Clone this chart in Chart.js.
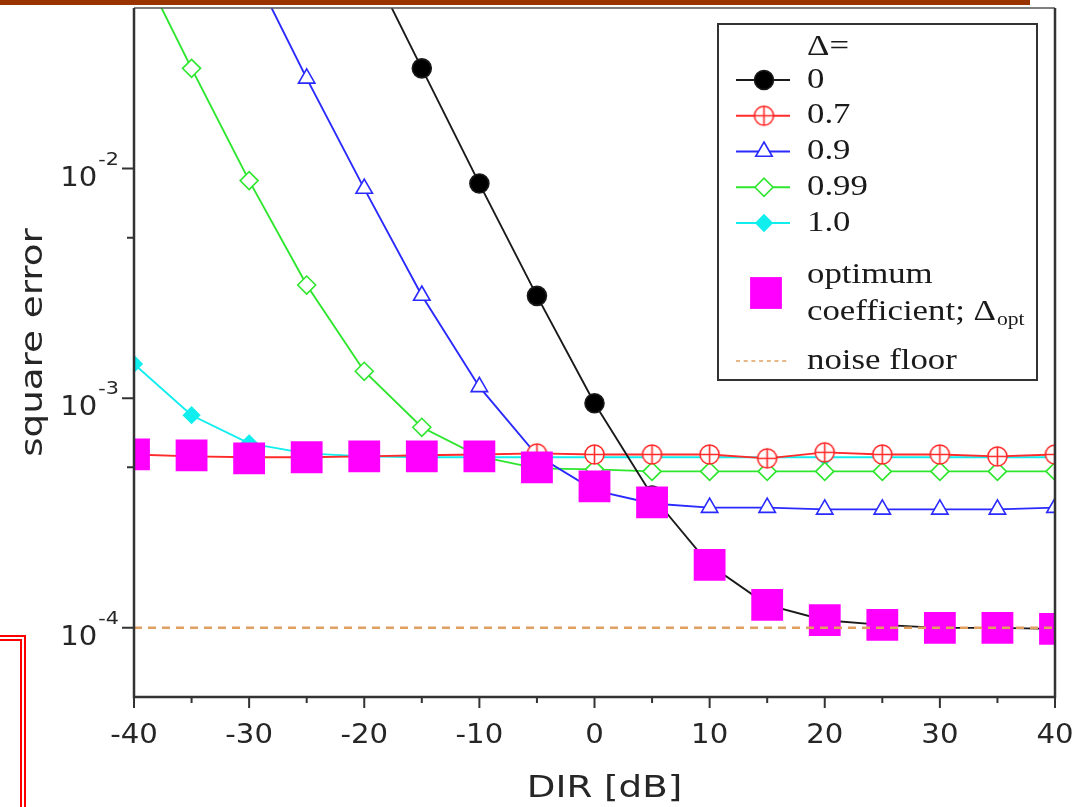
<!DOCTYPE html>
<html>
<head>
<meta charset="utf-8">
<title>square error vs DIR</title>
<script src="https://cdn.jsdelivr.net/npm/chart.js@4.4.0/dist/chart.umd.min.js"></script>
<style>
  html, body { margin: 0; padding: 0; background: #fff; }
  #wrap { position: relative; width: 1073px; height: 807px; overflow: hidden; }
  #chart { position: absolute; left: 0; top: 0; }
  #topBar { position: absolute; left: 0; top: 0; width: 1030px; height: 5px; background: #993300; }
  #sideFrame { position: absolute; left: -20px; top: 635px; width: 46px; height: 300px; border: 6px double #ff0000; box-sizing: border-box; }
</style>
</head>
<body>
<div id="wrap">
  <canvas id="chart" width="1073" height="807"></canvas>
  <div id="topBar"></div>
  <div id="sideFrame"></div>
</div>
<script>
// DIR in dB (x axis)
const dirDb = [-40, -35, -30, -25, -20, -15, -10, -5, 0, 5, 10, 15, 20, 25, 30, 35, 40];

// square error for each fixed coefficient Delta
const errDelta0   = [null, null, null, null, 0.087, 0.0273, 0.0086, 0.00279, 0.00095, 3.77e-4, 1.88e-4, 1.26e-4, 1.08e-4, 1.03e-4, 1.00e-4, 1.00e-4, 0.99e-4];
const errDelta07  = [5.69e-4, 5.58e-4, 5.53e-4, 5.53e-4, 5.58e-4, 5.64e-4, 5.69e-4, 5.75e-4, 5.69e-4, 5.69e-4, 5.69e-4, 5.47e-4, 5.81e-4, 5.69e-4, 5.69e-4, 5.58e-4, 5.69e-4];
const errDelta09  = [null, null, 0.0785, 0.0247, 0.00818, 0.0028, 0.00112, 5.64e-4, 3.97e-4, 3.48e-4, 3.34e-4, 3.34e-4, 3.28e-4, 3.28e-4, 3.28e-4, 3.28e-4, 3.34e-4];
const errDelta099 = [0.087, 0.0273, 0.00886, 0.00311, 0.00131, 7.47e-4, 5.58e-4, 4.95e-4, 4.90e-4, 4.80e-4, 4.80e-4, 4.80e-4, 4.80e-4, 4.80e-4, 4.80e-4, 4.80e-4, 4.80e-4];
const errDelta1   = [0.00141, 8.43e-4, 6.36e-4, 5.75e-4, 5.58e-4, 5.53e-4, 5.53e-4, 5.53e-4, 5.53e-4, 5.53e-4, 5.53e-4, 5.53e-4, 5.53e-4, 5.53e-4, 5.53e-4, 5.53e-4, 5.53e-4];
// optimum coefficient
const errOptimum  = [5.69e-4, 5.64e-4, 5.47e-4, 5.53e-4, 5.58e-4, 5.58e-4, 5.58e-4, 5.0e-4, 4.13e-4, 3.52e-4, 1.88e-4, 1.26e-4, 1.08e-4, 1.03e-4, 1.00e-4, 1.00e-4, 0.99e-4];
const noiseFloor = 1e-4;

// axis ticks
const xMajorTicks = [-40, -30, -20, -10, 0, 10, 20, 30, 40];
const xMinorTicks = [-35, -25, -15, -5, 5, 15, 25, 35];
const yMajorTicks = [1e-4, 1e-3, 1e-2];
const yTickExponents = ['-4', '-3', '-2'];
const yMinorTicks = [5e-4, 5e-3];

const seriesLabels = ['0', '0.7', '0.9', '0.99', '1.0'];

function toPoints(arr) {
    return dirDb.map((x, i) => ({ x: x, y: arr[i] }));
}

function circlePlus(color, r) {
    const c = document.createElement('canvas');
    const s = Math.ceil(r * 2 + 4);
    c.width = s;
    c.height = s;
    const g = c.getContext('2d');
    g.fillStyle = '#fff';
    g.strokeStyle = color;
    g.lineWidth = 1.6;
    g.beginPath();
    g.arc(s / 2, s / 2, r, 0, Math.PI * 2);
    g.fill();
    g.stroke();
    g.beginPath();
    g.moveTo(s / 2 - r, s / 2);
    g.lineTo(s / 2 + r, s / 2);
    g.moveTo(s / 2, s / 2 - r);
    g.lineTo(s / 2, s / 2 + r);
    g.stroke();
    return c;
}

function lineSeries(label, data, color, style, radius, fill, order) {
    return {
        label: label,
        data: toPoints(data),
        borderColor: color,
        borderWidth: 1.9,
        pointStyle: style,
        pointRadius: radius,
        pointBorderWidth: 1.6,
        pointBorderColor: color,
        pointBackgroundColor: fill,
        tension: 0,
        spanGaps: false,
        order: order
    };
}

const datasets = [
    lineSeries(seriesLabels[0], errDelta0, '#1a1a1a', 'circle', 9.5, '#000', 2),
    lineSeries(seriesLabels[1], errDelta07, '#ff2a2a', circlePlus('#ff2a2a', 9.5), 10, '#fff', 3),
    lineSeries(seriesLabels[2], errDelta09, '#2a2aff', 'triangle', 9.5, '#fff', 4),
    lineSeries(seriesLabels[3], errDelta099, '#2ee62e', 'rectRot', 9, '#fff', 5),
    lineSeries(seriesLabels[4], errDelta1, '#10eeee', 'rectRot', 8, '#10eeee', 6),
    {
        label: 'optimum',
        data: toPoints(errOptimum),
        showLine: false,
        borderWidth: 0,
        pointStyle: 'rect',
        pointRadius: 22.5,
        pointBorderWidth: 0,
        pointBackgroundColor: '#ff00ff',
        order: 1
    },
    {
        label: 'noise floor',
        data: [{ x: -40, y: noiseFloor }, { x: 40, y: noiseFloor }],
        borderColor: '#e0a060',
        borderWidth: 2.5,
        borderDash: [8, 6],
        pointRadius: 0,
        order: 0
    }
];

function stretchText(ctx, text, x, y, align, sx) {
    ctx.save();
    ctx.translate(x, y);
    ctx.scale(sx, 1);
    ctx.textAlign = align;
    ctx.fillText(text, 0, 0);
    ctx.restore();
}

const decorPlugin = {
    id: 'decor',
    afterDraw(chart) {
        const ctx = chart.ctx;
        const area = chart.chartArea;
        const xs = chart.scales.x;
        const ys = chart.scales.y;

        ctx.save();
        // frame
        ctx.strokeStyle = '#555';
        ctx.lineWidth = 1.5;
        ctx.beginPath();
        ctx.moveTo(area.left, area.top);
        ctx.lineTo(area.right, area.top);
        ctx.stroke();
        ctx.strokeStyle = '#333';
        ctx.lineWidth = 2.5;
        ctx.beginPath();
        ctx.moveTo(area.left, area.top);
        ctx.lineTo(area.left, area.bottom);
        ctx.lineTo(area.right, area.bottom);
        ctx.lineTo(area.right, area.top);
        ctx.stroke();

        // ticks
        ctx.lineWidth = 2;
        ctx.beginPath();
        xMajorTicks.forEach(v => {
            const px = xs.getPixelForValue(v);
            ctx.moveTo(px, area.bottom);
            ctx.lineTo(px, area.bottom + 11);
        });
        xMinorTicks.forEach(v => {
            const px = xs.getPixelForValue(v);
            ctx.moveTo(px, area.bottom);
            ctx.lineTo(px, area.bottom + 6);
        });
        yMajorTicks.forEach(v => {
            const py = ys.getPixelForValue(v);
            ctx.moveTo(area.left, py);
            ctx.lineTo(area.left - 12, py);
        });
        yMinorTicks.forEach(v => {
            const py = ys.getPixelForValue(v);
            ctx.moveTo(area.left, py);
            ctx.lineTo(area.left - 7, py);
        });
        ctx.stroke();

        // tick labels
        ctx.fillStyle = '#262626';
        ctx.textBaseline = 'alphabetic';
        ctx.font = '27px "DejaVu Sans"';
        xMajorTicks.forEach(v => {
            stretchText(ctx, String(v), xs.getPixelForValue(v), area.bottom + 46, 'center', 1.08);
        });
        yMajorTicks.forEach((v, i) => {
            const py = ys.getPixelForValue(v);
            const expRight = area.left - 15;
            ctx.font = '18px "DejaVu Sans"';
            const expW = ctx.measureText(yTickExponents[i]).width * 1.15;
            stretchText(ctx, yTickExponents[i], expRight, py - 4, 'right', 1.15);
            ctx.font = '26px "DejaVu Sans"';
            stretchText(ctx, '10', expRight - expW - 1, py + 17, 'right', 1.12);
        });

        // axis titles
        ctx.font = '31px "DejaVu Sans"';
        stretchText(ctx, 'DIR [dB]', (area.left + area.right) / 2 + 10, area.bottom + 100, 'center', 1.2);
        ctx.save();
        ctx.translate(42, (area.top + area.bottom) / 2 - 10);
        ctx.rotate(-Math.PI / 2);
        stretchText(ctx, 'square error', 0, 0, 'center', 1.2);
        ctx.restore();

        // legend
        const bx = area.right - 337;
        const by = area.top + 16;
        const bw = 319;
        const bh = 356;
        ctx.fillStyle = '#fff';
        ctx.fillRect(bx, by, bw, bh);
        ctx.strokeStyle = '#333';
        ctx.lineWidth = 2;
        ctx.strokeRect(bx, by, bw, bh);

        const textX = bx + 89;
        const lineL = bx + 18;
        const lineR = bx + 72;
        const markX = bx + 46;
        ctx.textBaseline = 'middle';
        ctx.fillStyle = '#1a1a1a';
        ctx.font = '29px "Liberation Serif"';
        stretchText(ctx, '\u0394=', textX, by + 23, 'left', 1.2);

        for (let i = 0; i < 5; i++) {
            const ds = chart.data.datasets[i];
            const cy = by + 56 + i * 35.75;
            ctx.strokeStyle = ds.borderColor;
            ctx.lineWidth = ds.borderWidth;
            ctx.beginPath();
            ctx.moveTo(lineL, cy);
            ctx.lineTo(lineR, cy);
            ctx.stroke();
            ctx.fillStyle = ds.pointBackgroundColor;
            ctx.strokeStyle = ds.pointBorderColor;
            ctx.lineWidth = ds.pointBorderWidth;
            Chart.helpers.drawPoint(ctx, {
                pointStyle: ds.pointStyle,
                radius: ds.pointRadius,
                borderWidth: ds.pointBorderWidth,
                rotation: 0
            }, markX, cy);
            ctx.fillStyle = '#1a1a1a';
            ctx.font = '29px "Liberation Serif"';
            stretchText(ctx, ds.label, textX, cy, 'left', 1.2);
        }

        const opt = chart.data.datasets[5];
        ctx.fillStyle = opt.pointBackgroundColor;
        Chart.helpers.drawPoint(ctx, {
            pointStyle: 'rect', radius: opt.pointRadius, borderWidth: 0, rotation: 0
        }, markX + 2, by + 269);
        ctx.fillStyle = '#1a1a1a';
        stretchText(ctx, 'optimum', textX, by + 251, 'left', 1.2);
        const line2 = 'coefficient; \u0394';
        stretchText(ctx, line2, textX, by + 288, 'left', 1.2);
        const w2 = ctx.measureText(line2).width * 1.2;
        ctx.font = '18px "Liberation Serif"';
        stretchText(ctx, 'opt', textX + w2 + 1, by + 296, 'left', 1.2);

        const nf = chart.data.datasets[6];
        ctx.strokeStyle = nf.borderColor;
        ctx.lineWidth = 1.5;
        ctx.setLineDash([4, 3.7]);
        ctx.beginPath();
        ctx.moveTo(lineL, by + 337);
        ctx.lineTo(lineR, by + 337);
        ctx.stroke();
        ctx.setLineDash([]);
        ctx.font = '29px "Liberation Serif"';
        stretchText(ctx, 'noise floor', textX, by + 337, 'left', 1.2);
        ctx.restore();
    }
};

new Chart(document.getElementById('chart').getContext('2d'), {
    type: 'line',
    data: { datasets: datasets },
    options: {
        responsive: false,
        animation: false,
        events: [],
        layout: { autoPadding: false, padding: { top: 8, right: 18, left: 0, bottom: 0 } },
        plugins: {
            legend: { display: false },
            tooltip: { enabled: false }
        },
        scales: {
            x: {
                type: 'linear',
                min: -40,
                max: 40,
                grid: { display: false },
                border: { display: false },
                ticks: { display: false },
                afterFit: function(scale) { scale.height = 110; }
            },
            y: {
                type: 'logarithmic',
                min: 5e-5,
                max: 5e-2,
                grid: { display: false },
                border: { display: false },
                ticks: { display: false },
                afterFit: function(scale) { scale.width = 134; }
            }
        }
    },
    plugins: [decorPlugin]
});
</script>
</body>
</html>
